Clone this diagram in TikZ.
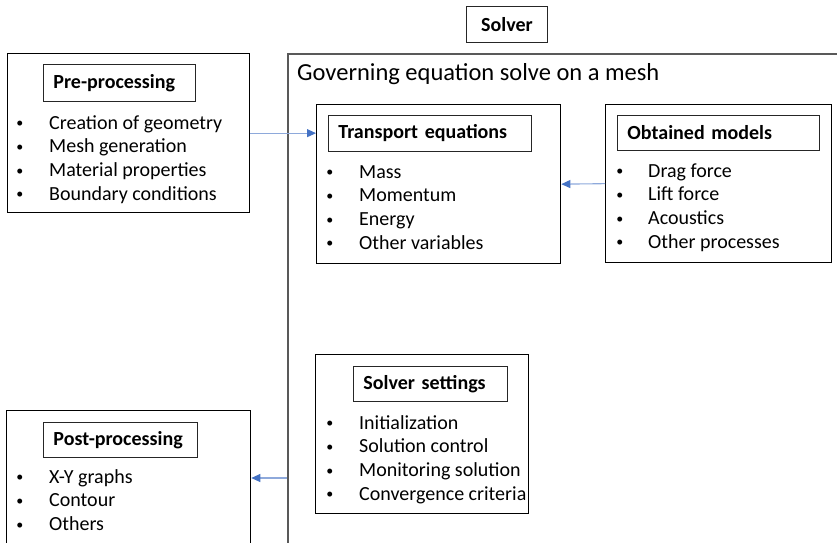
\documentclass[tikz,border=0pt]{standalone}
\usepackage{fontspec}
\setmainfont{Carlito}
\usetikzlibrary{arrows.meta}
\definecolor{arrblue}{HTML}{4472C4}
\definecolor{arrline}{HTML}{8EA9DB}
\definecolor{framegray}{HTML}{595959}
\newcommand\bul{\raisebox{1.2pt}{\fontsize{14}{14}\selectfont\textbullet}}
\newcommand\itm[1]{\makebox[34pt][l]{\hspace{1.2pt}\bul}#1}
\begin{document}
\begin{tikzpicture}[x=1pt,y=-1pt,
  frame/.style={draw=framegray, line width=1.6pt, anchor=north west, inner sep=0pt},
  box/.style={draw=black, line width=1.3pt, anchor=north west, inner sep=0pt},
  titlebox/.style={draw=black!85, line width=0.9pt, anchor=north west, inner xsep=10pt, inner ysep=0pt, align=left, font=\fontsize{20}{24}\selectfont\bfseries},
  items/.style={anchor=base west, inner sep=0pt, font=\fontsize{20}{23.7}\selectfont},
  link/.style={draw=arrline, line width=1.1pt, -{Triangle[length=9pt,width=8pt,color=arrblue]}}
]
\useasboundingbox (0,0) rectangle (837,542);
\clip (0,0) rectangle (837,542);

% Solver frame
\node[frame, minimum width=600pt, minimum height=600pt] (solver) at (287,53) {};
\node[titlebox, text width=61pt, align=center, minimum height=36pt] (solverlbl) at (466,6) {Solver};
\node[anchor=west, inner sep=0pt, font=\fontsize{24.5}{30}\selectfont] (gov) at (297,74) {Governing equation solve on a mesh};

% Pre-processing
\node[box, minimum width=242pt, minimum height=159pt] (pre) at (7,53) {};
\node[titlebox, text width=132pt, minimum height=37pt] (pretitle) at (43,64) {Pre-processing};
\node[items] (preitems) at (15,129) {\begin{tabular}[t]{@{}l@{}}\itm{Creation of geometry}\\ \itm{Mesh generation}\\ \itm{Material properties}\\ \itm{Boundary conditions}\end{tabular}};

% Transport equations
\node[box, minimum width=244pt, minimum height=159pt] (trans) at (316,104) {};
\node[titlebox, text width=183pt, minimum height=36pt] (transtitle) at (328,115) {Transport equations};
\node[items] (transitems) at (325,178) {\begin{tabular}[t]{@{}l@{}}\itm{Mass}\\ \itm{Momentum}\\ \itm{Energy}\\ \itm{Other variables}\end{tabular}};

% Obtained models
\node[box, minimum width=226pt, minimum height=158pt] (obt) at (605,104) {};
\node[titlebox, text width=182pt, minimum height=35pt] (obttitle) at (617,115) {Obtained models};
\node[items] (obtitems) at (615,177) {\begin{tabular}[t]{@{}l@{}}\makebox[33pt][l]{\hspace{1.2pt}\bul}Drag force\\ \makebox[33pt][l]{\hspace{1.2pt}\bul}Lift force\\ \makebox[33pt][l]{\hspace{1.2pt}\bul}Acoustics\\ \makebox[33pt][l]{\hspace{1.2pt}\bul}Other processes\end{tabular}};

% Solver settings
\node[box, minimum width=213pt, minimum height=159pt] (set) at (315,354) {};
\node[titlebox, text width=134pt, minimum height=35pt] (settitle) at (353,366) {Solver settings};
\node[items] (setitems) at (325,429) {\begin{tabular}[t]{@{}l@{}}\itm{Initialization}\\ \itm{Solution control}\\ \itm{Monitoring solution}\\ \itm{Convergence criteria}\end{tabular}};

% Post-processing
\node[box, minimum width=244pt, minimum height=200pt] (post) at (6,410) {};
\node[titlebox, text width=134pt, minimum height=35pt] (posttitle) at (43,422) {Post-processing};
\node[items] (postitems) at (15,483) {\begin{tabular}[t]{@{}l@{}}\itm{X-Y graphs}\\ \itm{Contour}\\ \itm{Others}\end{tabular}};

% Connectors
\draw[link] (pre.east) -- (pre.east -| trans.west);
\draw[link] (obt.west) -- (trans.east);
\coordinate (solvout) at (287,478);
\draw[link] (solvout) -- (solvout -| post.east);
\end{tikzpicture}
\end{document}
